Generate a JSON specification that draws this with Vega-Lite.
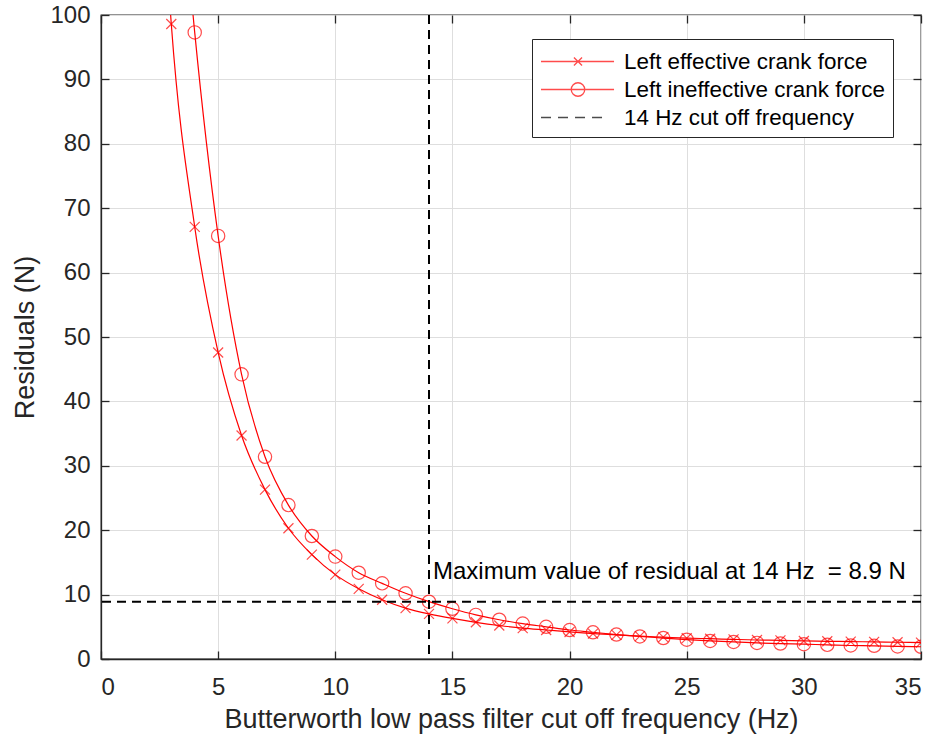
{
  "$schema": "https://vega.github.io/schema/vega-lite/v6.json",
  "width": 820,
  "height": 644,
  "autosize": "none",
  "padding": {"left": 101, "top": 15, "right": 15, "bottom": 81},
  "config": {
    "view": {"stroke": "#262626", "strokeWidth": 1.3},
    "font": "Liberation Sans",
    "axis": {
      "labelFont": "Liberation Sans", "titleFont": "Liberation Sans",
      "labelFontSize": 24, "titleFontSize": 27, "titleFontWeight": "normal",
      "labelColor": "#262626", "titleColor": "#262626",
      "domainColor": "#262626", "domainWidth": 1.3,
      "tickColor": "#262626", "tickWidth": 1.3, "tickSize": -8,
      "gridColor": "#dedede", "gridWidth": 1
    },
    "legend": {
      "orient": "none", "legendX": 431, "legendY": 24,
      "fillColor": "white", "strokeColor": "#262626", "strokeWidth": 1,
      "padding": 8, "labelFont": "Liberation Sans", "labelFontSize": 22.4, "labelLimit": 500,
      "labelColor": "black", "labelOffset": 55, "rowPadding": 2,
      "symbolSize": 729, "symbolStrokeWidth": 1.3, "symbolFillColor": "transparent"
    }
  },
  "datasets": {
    "curves": [
      {"freq": 2, "value": 165, "series": "Left effective crank force"},
      {"freq": 3, "value": 98.6, "series": "Left effective crank force"},
      {"freq": 4, "value": 67.1, "series": "Left effective crank force"},
      {"freq": 5, "value": 47.6, "series": "Left effective crank force"},
      {"freq": 6, "value": 34.7, "series": "Left effective crank force"},
      {"freq": 7, "value": 26.3, "series": "Left effective crank force"},
      {"freq": 8, "value": 20.3, "series": "Left effective crank force"},
      {"freq": 9, "value": 16.2, "series": "Left effective crank force"},
      {"freq": 10, "value": 13.1, "series": "Left effective crank force"},
      {"freq": 11, "value": 10.9, "series": "Left effective crank force"},
      {"freq": 12, "value": 9.2, "series": "Left effective crank force"},
      {"freq": 13, "value": 7.9, "series": "Left effective crank force"},
      {"freq": 14, "value": 7.0, "series": "Left effective crank force"},
      {"freq": 15, "value": 6.3, "series": "Left effective crank force"},
      {"freq": 16, "value": 5.7, "series": "Left effective crank force"},
      {"freq": 17, "value": 5.2, "series": "Left effective crank force"},
      {"freq": 18, "value": 4.8, "series": "Left effective crank force"},
      {"freq": 19, "value": 4.5, "series": "Left effective crank force"},
      {"freq": 20, "value": 4.2, "series": "Left effective crank force"},
      {"freq": 21, "value": 3.95, "series": "Left effective crank force"},
      {"freq": 22, "value": 3.75, "series": "Left effective crank force"},
      {"freq": 23, "value": 3.55, "series": "Left effective crank force"},
      {"freq": 24, "value": 3.4, "series": "Left effective crank force"},
      {"freq": 25, "value": 3.25, "series": "Left effective crank force"},
      {"freq": 26, "value": 3.15, "series": "Left effective crank force"},
      {"freq": 27, "value": 3.05, "series": "Left effective crank force"},
      {"freq": 28, "value": 2.95, "series": "Left effective crank force"},
      {"freq": 29, "value": 2.9, "series": "Left effective crank force"},
      {"freq": 30, "value": 2.8, "series": "Left effective crank force"},
      {"freq": 31, "value": 2.75, "series": "Left effective crank force"},
      {"freq": 32, "value": 2.7, "series": "Left effective crank force"},
      {"freq": 33, "value": 2.65, "series": "Left effective crank force"},
      {"freq": 34, "value": 2.6, "series": "Left effective crank force"},
      {"freq": 35, "value": 2.55, "series": "Left effective crank force"},
      {"freq": 3, "value": 140, "series": "Left ineffective crank force"},
      {"freq": 4, "value": 97.3, "series": "Left ineffective crank force"},
      {"freq": 5, "value": 65.7, "series": "Left ineffective crank force"},
      {"freq": 6, "value": 44.2, "series": "Left ineffective crank force"},
      {"freq": 7, "value": 31.4, "series": "Left ineffective crank force"},
      {"freq": 8, "value": 23.9, "series": "Left ineffective crank force"},
      {"freq": 9, "value": 19.1, "series": "Left ineffective crank force"},
      {"freq": 10, "value": 15.9, "series": "Left ineffective crank force"},
      {"freq": 11, "value": 13.4, "series": "Left ineffective crank force"},
      {"freq": 12, "value": 11.75, "series": "Left ineffective crank force"},
      {"freq": 13, "value": 10.2, "series": "Left ineffective crank force"},
      {"freq": 14, "value": 8.9, "series": "Left ineffective crank force"},
      {"freq": 15, "value": 7.8, "series": "Left ineffective crank force"},
      {"freq": 16, "value": 6.85, "series": "Left ineffective crank force"},
      {"freq": 17, "value": 6.1, "series": "Left ineffective crank force"},
      {"freq": 18, "value": 5.5, "series": "Left ineffective crank force"},
      {"freq": 19, "value": 5.0, "series": "Left ineffective crank force"},
      {"freq": 20, "value": 4.5, "series": "Left ineffective crank force"},
      {"freq": 21, "value": 4.15, "series": "Left ineffective crank force"},
      {"freq": 22, "value": 3.8, "series": "Left ineffective crank force"},
      {"freq": 23, "value": 3.5, "series": "Left ineffective crank force"},
      {"freq": 24, "value": 3.25, "series": "Left ineffective crank force"},
      {"freq": 25, "value": 3.0, "series": "Left ineffective crank force"},
      {"freq": 26, "value": 2.8, "series": "Left ineffective crank force"},
      {"freq": 27, "value": 2.65, "series": "Left ineffective crank force"},
      {"freq": 28, "value": 2.5, "series": "Left ineffective crank force"},
      {"freq": 29, "value": 2.4, "series": "Left ineffective crank force"},
      {"freq": 30, "value": 2.3, "series": "Left ineffective crank force"},
      {"freq": 31, "value": 2.2, "series": "Left ineffective crank force"},
      {"freq": 32, "value": 2.1, "series": "Left ineffective crank force"},
      {"freq": 33, "value": 2.05, "series": "Left ineffective crank force"},
      {"freq": 34, "value": 1.95, "series": "Left ineffective crank force"},
      {"freq": 35, "value": 1.9, "series": "Left ineffective crank force"}
    ],
    "legendItems": [
      {"series": "Left effective crank force", "lx": -10, "ly": -10},
      {"series": "Left ineffective crank force", "lx": -10, "ly": -10},
      {"series": "14 Hz cut off frequency", "lx": -10, "ly": -10}
    ],
    "cutoff": [{"cut": 14}],
    "maxres": [{"res": 8.9}],
    "note": [{"freq": 14, "value": 8.9, "label": "Maximum value of residual at 14 Hz\u00a0 = 8.9 N"}]
  },
  "layer": [
    {
      "data": {"name": "curves"},
      "mark": {"type": "line", "color": "#ff0000", "strokeWidth": 1.2, "clip": true, "interpolate": "monotone"},
      "encoding": {
        "x": {"field": "freq", "type": "quantitative", "scale": {"domain": [0, 35], "nice": false},
              "axis": {"orient": "bottom", "values": [0, 5, 10, 15, 20, 25, 30, 35], "grid": true, "labelPadding": 24,
                       "title": "Butterworth low pass filter cut off frequency (Hz)", "titleBaseline": "alphabetic", "titleY": 68}},
        "y": {"field": "value", "type": "quantitative", "scale": {"domain": [0, 100], "nice": false},
              "axis": {"orient": "left", "values": [0, 10, 20, 30, 40, 50, 60, 70, 80, 90, 100], "grid": true, "labelPadding": 19,
                       "title": "Residuals (N)", "titleBaseline": "alphabetic", "titleX": -68}},
        "detail": {"field": "series"}
      }
    },
    {
      "data": {"name": "curves"},
      "transform": [{"filter": "datum.series === 'Left effective crank force'"}],
      "mark": {"type": "point", "shape": "M-1,-1L1,1M-1,1L1,-1", "size": 100, "filled": false, "color": "#ff0000", "strokeWidth": 1.2, "clip": true},
      "encoding": {
        "x": {"field": "freq", "type": "quantitative", "scale": {"domain": [0, 35], "nice": false}, "axis": null},
        "y": {"field": "value", "type": "quantitative", "scale": {"domain": [0, 100], "nice": false}, "axis": null}
      }
    },
    {
      "data": {"name": "curves"},
      "transform": [{"filter": "datum.series === 'Left ineffective crank force'"}],
      "mark": {"type": "point", "shape": "circle", "size": 177, "filled": false, "color": "#ff0000", "strokeWidth": 1.2, "clip": true},
      "encoding": {
        "x": {"field": "freq", "type": "quantitative", "scale": {"domain": [0, 35], "nice": false}, "axis": null},
        "y": {"field": "value", "type": "quantitative", "scale": {"domain": [0, 100], "nice": false}, "axis": null}
      }
    },
    {
      "data": {"name": "cutoff"},
      "mark": {"type": "rule", "color": "black", "strokeWidth": 2, "strokeDash": [9, 6]},
      "encoding": {
        "x": {"field": "cut", "type": "quantitative", "scale": {"domain": [0, 35], "nice": false},
              "axis": {"orient": "top", "values": [0, 5, 10, 15, 20, 25, 30, 35], "labels": false, "grid": false, "domain": false, "title": null}}
      }
    },
    {
      "data": {"name": "maxres"},
      "mark": {"type": "rule", "color": "black", "strokeWidth": 2, "strokeDash": [9, 6]},
      "encoding": {
        "y": {"field": "res", "type": "quantitative", "scale": {"domain": [0, 100], "nice": false},
              "axis": {"orient": "right", "values": [0, 10, 20, 30, 40, 50, 60, 70, 80, 90, 100], "labels": false, "grid": false, "domain": false, "title": null}}
      }
    },
    {
      "data": {"name": "note"},
      "mark": {"type": "text", "align": "left", "baseline": "alphabetic", "dx": 4, "dy": -23, "fontSize": 24, "font": "Liberation Sans", "color": "black"},
      "encoding": {
        "x": {"field": "freq", "type": "quantitative", "scale": {"domain": [0, 35], "nice": false}, "axis": null},
        "y": {"field": "value", "type": "quantitative", "scale": {"domain": [0, 100], "nice": false}, "axis": null},
        "text": {"field": "label"}
      }
    },
    {
      "data": {"name": "legendItems"},
      "mark": {"type": "point", "filled": false, "clip": true},
      "encoding": {
        "x": {"field": "lx", "type": "quantitative", "scale": {"domain": [0, 35], "nice": false}, "axis": null},
        "y": {"field": "ly", "type": "quantitative", "scale": {"domain": [0, 100], "nice": false}, "axis": null},
        "shape": {"field": "series", "type": "nominal",
                  "scale": {"domain": ["Left effective crank force", "Left ineffective crank force", "14 Hz cut off frequency"],
                            "range": ["M-1,0L4.41,0M1.44,-0.3L2.04,0.3M1.44,0.3L2.04,-0.3",
                                      "M-1,0L4.41,0M2.24,0A0.5,0.5 0 1 1 1.24,0A0.5,0.5 0 1 1 2.24,0",
                                      "M-1,0L-0.26,0M0.26,0L1,0M1.52,0L2.26,0M2.78,0L3.52,0"]},
                  "legend": {"title": null}},
        "color": {"field": "series", "type": "nominal",
                  "scale": {"domain": ["Left effective crank force", "Left ineffective crank force", "14 Hz cut off frequency"],
                            "range": ["#ff0000", "#ff0000", "black"]},
                  "legend": {"title": null}}
      }
    }
  ]
}
